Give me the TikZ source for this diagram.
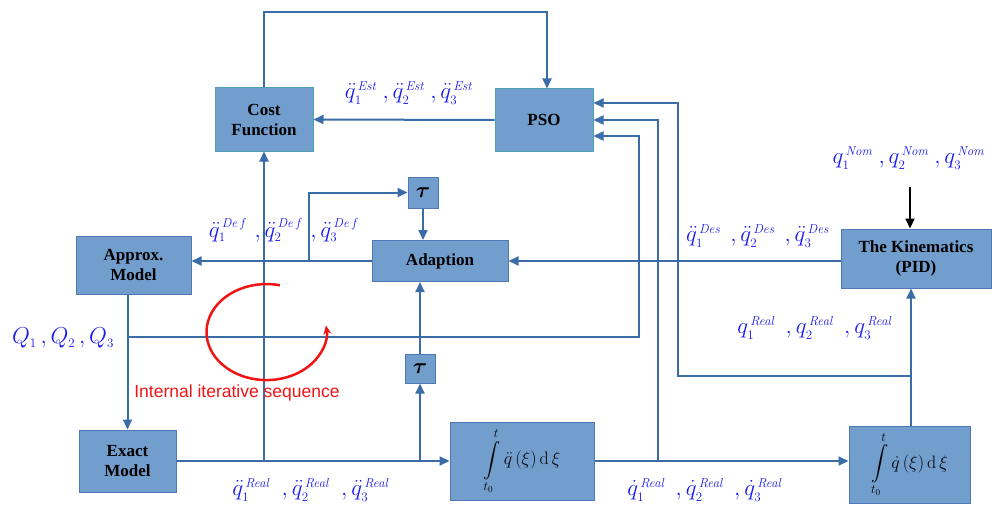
\RequirePackage{fix-cm}
\documentclass[tikz,border=0pt]{standalone}
\usepackage{amsmath}
\usepackage[no-math]{fontspec}
\setmainfont{Liberation Serif}
\newfontfamily\arialf{Liberation Sans}
\usetikzlibrary{arrows.meta}
\DeclareMathSizes{23}{23}{13}{10}
\newcommand{\gapc}[1]{\hspace{#1pt},}
\definecolor{lnc}{RGB}{58,108,168}
\definecolor{bxc}{RGB}{114,158,206}
\definecolor{bdc}{RGB}{80,120,180}
\definecolor{bdt}{RGB}{75,160,180}
\definecolor{lbc}{RGB}{25,25,240}
\definecolor{rdc}{RGB}{240,20,20}
\begin{document}
\begin{tikzpicture}[x=1pt,y=-1pt,
  box/.style={draw=bdc, line width=1pt, fill=bxc, inner sep=0pt, align=center,
    font=\fontsize{17}{20}\selectfont\bfseries},
  tbox/.style={box, draw=bdt},
  arr/.style={draw=lnc, line width=2pt, -{Triangle[length=10pt,width=9pt]}},
  lab/.style={text=lbc, inner sep=0pt, font=\fontsize{23}{25}\selectfont},
  intg/.style={font=\fontsize{18}{20}\selectfont}]
\useasboundingbox (0,0) rectangle (992,508);

% boxes
\node[tbox, minimum width=98pt, minimum height=63pt] (cost) at (264,119.5) {Cost\\Function};
\node[tbox, minimum width=98pt, minimum height=62pt] (pso) at (544,120) {PSO};
\node[box, minimum width=115pt, minimum height=58pt] (approx) at (133.5,265) {Approx.\\Model};
\node[box, minimum width=136pt, minimum height=41pt] (adapt) at (440,261) {Adaption};
\node[box, minimum width=30pt, minimum height=31pt, font=\fontsize{22}{24}\selectfont] (tau1) at (423,192.5) {$\boldsymbol{\tau}$};
\node[box, minimum width=30pt, minimum height=29pt, font=\fontsize{22}{24}\selectfont] (tau2) at (420,368.5) {$\boldsymbol{\tau}$};
\node[box, minimum width=97pt, minimum height=62pt] (exact) at (127.5,461) {Exact\\Model};
\node[box, minimum width=144pt, minimum height=78pt, intg] (int1) at (522,461)
  {$\displaystyle\int\limits_{t_0}^{t}\ddot{q}\left(\xi\right)\mathrm{d}\,\xi$};
\node[box, minimum width=121pt, minimum height=77pt, intg] (int2) at (909.5,464.5)
  {$\displaystyle\int\limits_{t_0}^{t}\dot{q}\left(\xi\right)\mathrm{d}\,\xi$};
\node[box, minimum width=150pt, minimum height=59pt] (kin) at (916,258.5) {The Kinematics\\(PID)};

% helper coordinates
\coordinate (top) at (264,12);
\coordinate (bD) at (309,261);
\coordinate (nom) at (910,187);
\coordinate (qs) at (128,337);
\coordinate (qc) at (639,337);
\coordinate (b2) at (658,461);
\coordinate (b3) at (911,376);
\coordinate (b3c) at (678,376);

% connectors
\draw[arr] (cost.north) -- (top) -| ([xshift=3pt]pso.north);
\draw[arr] (pso.west) -- (cost.east);
\draw[arr] (exact.east -| cost.south) -- (cost.south);
\draw[arr] (exact.east) -- (int1.west);
\draw[arr] (exact.east -| tau2.south) -- (tau2.south);
\draw[arr] (tau2.north) -- (tau2.north |- adapt.south);
\draw[arr] (tau1.south) -- (tau1.south |- adapt.north);
\draw[arr] (adapt.west) -- (adapt.west -| approx.east);
\draw[arr] (bD) |- (tau1.west);
\draw[arr] (adapt.east -| kin.west) -- (adapt.east);
\draw[arr, draw=black] (nom) -- (nom |- kin.north);
\draw[arr] (approx.south -| exact.north) -- (exact.north);
\draw[arr] (qs) -- (qc) |- ([yshift=-16pt]pso.east);
\draw[arr] (int1.east) -- (int1.east -| int2.west);
\draw[arr] (b2) |- (pso.east);
\draw[arr] (b3 |- int2.north) -- (b3 |- kin.south);
\draw[arr] (b3) -- (b3c) |- ([yshift=17pt]pso.east);

% internal loop
\draw[draw=rdc, line width=2.5pt, -{Stealth[length=9pt,width=8pt]}]
  (280,285.3) arc[start angle=77, end angle=368, x radius=60pt, y radius=48pt];
\node[text=rdc, inner sep=0pt, font=\arialf\fontsize{17.5}{20}\selectfont] (iis) at (237,393) {Internal iterative sequence};

% labels
\node[lab] (lEst) at (409,93) {$\ddot{q}_1^{\,\mathit{Est}}\gapc{5}\ddot{q}_2^{\,\mathit{Est}}\gapc{5}\ddot{q}_3^{\,\mathit{Est}}$};
\node[lab] (lDef) at (284,230) {$\ddot{q}_1^{\,\mathit{De\,f}}\gapc{7}\ddot{q}_2^{\,\mathit{De\,f}}\gapc{7}\ddot{q}_3^{\,\mathit{De\,f}}$};
\node[lab] (lDes) at (758,236) {$\ddot{q}_1^{\,\mathit{Des}}\gapc{9}\ddot{q}_2^{\,\mathit{Des}}\gapc{9}\ddot{q}_3^{\,\mathit{Des}}$};
\node[lab] (lNom) at (909,158) {$q_1^{\,\mathit{Nom}}\gapc{5}q_2^{\,\mathit{Nom}}\gapc{5}q_3^{\,\mathit{Nom}}$};
\node[lab] (lRq) at (815,328) {$q_1^{\,\mathit{Real}}\gapc{10}q_2^{\,\mathit{Real}}\gapc{10}q_3^{\,\mathit{Real}}$};
\node[lab] (lRa) at (311,490) {$\ddot{q}_1^{\,\mathit{Real}}\gapc{11}\ddot{q}_2^{\,\mathit{Real}}\gapc{11}\ddot{q}_3^{\,\mathit{Real}}$};
\node[lab] (lRv) at (705,490) {$\dot{q}_1^{\,\mathit{Real}}\gapc{10}\dot{q}_2^{\,\mathit{Real}}\gapc{10}\dot{q}_3^{\,\mathit{Real}}$};
\node[lab] (lQ) at (63,338) {$Q_1\,,Q_2\,,Q_3$};
\end{tikzpicture}
\end{document}
